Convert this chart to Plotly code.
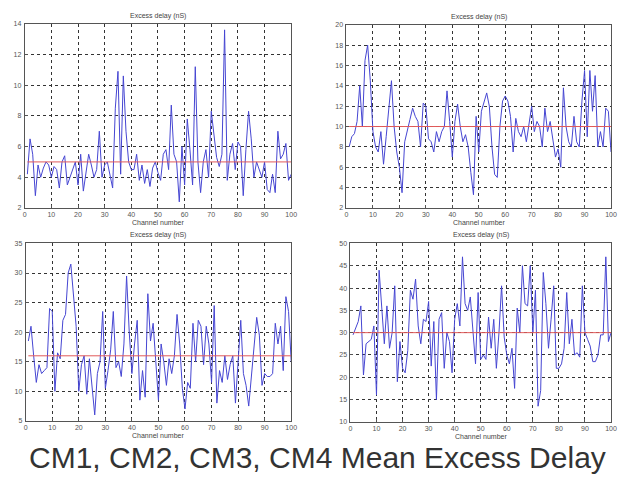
import plotly.graph_objects as go

channels = list(range(1, 101))

cm1 = [4.2, 6.5, 5.5, 2.8, 4.8, 4.0, 4.6, 5.0, 4.8, 4.0,
       4.7, 4.5, 3.3, 5.0, 5.4, 3.5, 4.0, 4.5, 5.0, 3.5,
       5.5, 3.1, 4.5, 5.5, 4.8, 4.0, 4.5, 7.0, 4.0, 4.8,
       5.0, 4.2, 3.3, 8.5, 10.9, 4.2, 10.6, 7.0, 5.0, 4.5,
       4.5, 5.5, 3.8, 4.8, 3.6, 4.5, 3.4, 4.6, 5.0, 4.3,
       3.8, 5.5, 5.8, 4.5, 8.7, 5.5, 5.0, 2.4, 6.0, 3.5,
       7.8, 5.8, 3.5, 11.2, 5.0, 3.0, 5.0, 5.8, 4.0, 8.3,
       6.8, 5.3, 4.7, 5.5, 13.6, 3.8, 5.5, 6.2, 4.5, 6.3,
       6.0, 2.8, 5.8, 8.3, 6.5, 4.0, 5.0, 4.5, 4.0, 5.0,
       3.2, 3.0, 4.2, 3.0, 7.0, 5.2, 5.5, 6.2, 3.8, 4.2]

cm2 = [8.0, 9.0, 9.3, 10.5, 14.0, 10.0, 16.5, 18.0, 14.5, 9.5,
       8.0, 7.5, 9.5, 6.3, 9.0, 12.0, 14.5, 10.0, 7.5, 6.0,
       3.5, 8.5, 9.5, 10.7, 11.8, 11.0, 10.5, 8.0, 12.3, 12.0,
       8.8, 8.5, 7.5, 9.5, 8.5, 9.5, 10.0, 13.5, 10.5, 7.0,
       10.5, 12.2, 10.0, 8.5, 9.2, 8.0, 5.5, 3.3, 11.0, 7.5,
       11.5, 12.5, 13.3, 12.0, 8.0, 5.3, 5.0, 10.0, 12.5, 13.0,
       12.5, 11.0, 7.5, 10.8, 9.5, 9.0, 10.0, 8.5, 10.2, 12.0,
       9.5, 10.5, 10.0, 8.0, 11.8, 9.5, 10.5, 8.5, 7.0, 7.8,
       6.0, 13.8, 10.0, 8.5, 8.0, 11.0, 8.5, 8.0, 12.5, 15.5,
       9.0, 15.5, 11.5, 15.0, 8.0, 9.5, 8.0, 11.8, 11.5, 7.5]

cm3 = [18.5, 21.0, 16.0, 11.5, 14.5, 13.0, 13.5, 14.0, 24.0, 23.5,
       10.0, 16.5, 15.5, 22.0, 23.0, 30.0, 31.5, 26.0, 21.0, 10.0,
       14.5, 16.0, 9.5, 15.5, 10.0, 6.0, 13.0, 15.0, 23.5, 10.5,
       13.5, 17.0, 23.5, 14.0, 15.0, 12.5, 18.0, 29.5, 20.0, 13.0,
       18.0, 22.0, 8.5, 13.5, 9.0, 26.5, 18.5, 21.5, 15.0, 8.5,
       18.0, 15.0, 11.0, 15.5, 13.0, 16.0, 23.0, 18.0, 10.5, 7.0,
       11.5, 10.5, 21.5, 15.0, 22.0, 21.0, 14.5, 21.0, 18.0, 11.5,
       24.5, 8.0, 13.5, 11.5, 16.0, 12.0, 14.5, 16.0, 8.0, 15.0,
       22.0, 13.0, 11.0, 7.5, 12.5, 18.0, 22.5, 19.5, 11.0, 13.0,
       12.5, 12.5, 13.0, 21.5, 18.0, 21.0, 13.5, 26.0, 23.5, 15.0]

cm4 = [29.5, 31.0, 32.5, 36.0, 20.5, 27.5, 28.0, 28.5, 31.5, 16.0,
       44.0, 35.0, 27.5, 36.0, 26.5, 30.0, 40.5, 19.0, 28.0, 22.0,
       21.0, 26.0, 39.5, 37.5, 42.0, 31.5, 27.5, 33.0, 32.5, 37.0,
       22.5, 32.5, 15.0, 33.0, 34.5, 22.0, 30.0, 28.0, 21.0, 33.0,
       36.5, 31.5, 47.0, 36.5, 35.0, 38.0, 31.0, 23.0, 39.0, 24.0,
       25.0, 24.0, 33.5, 26.5, 33.0, 22.0, 30.0, 40.5, 29.0, 25.0,
       23.0, 26.5, 17.5, 35.5, 30.0, 45.0, 36.5, 36.0, 45.0, 30.0,
       39.5, 13.5, 17.0, 43.5, 36.5, 26.5, 33.0, 40.5, 22.0, 22.0,
       23.0, 26.5, 39.0, 27.5, 33.0, 25.0, 25.5, 24.5, 40.5, 30.0,
       28.5, 27.0, 23.5, 23.5, 25.0, 29.5, 29.5, 47.0, 28.0, 30.0]

means = [5.0, 10.0, 16.0, 30.0]
series = [cm1, cm2, cm3, cm4]
y_ranges = [[2, 14], [2, 20], [5, 35], [10, 50]]
y_dticks = [2, 2, 5, 5]

panel_title = "Excess delay (nS)"
x_title = "Channel number"
caption = "CM1, CM2, CM3, CM4 Mean Excess Delay"

W, H = 619, 481
# pixel boxes (left, right, top, bottom)
boxes = [(23, 293, 20, 207), (349, 617, 21, 207), (24, 293, 243, 423), (353, 617, 243, 424)]

fig = go.Figure()
font_fam = "Liberation Sans, Arial, sans-serif"
annotations = []
for i, (data, m, box) in enumerate(zip(series, means, boxes)):
    n = "" if i == 0 else str(i + 1)
    xa, ya = "x" + n, "y" + n
    fig.add_trace(go.Scatter(x=channels, y=data, mode="lines", xaxis=xa, yaxis=ya,
                             line=dict(color="rgb(70,70,210)", width=1), showlegend=False))
    fig.add_trace(go.Scatter(x=[channels[0], channels[-1]], y=[m, m], mode="lines", xaxis=xa, yaxis=ya,
                             line=dict(color="rgb(225,90,90)", width=1), showlegend=False))
    l, r, t, b = box
    xd = [l / W, r / W]
    yd = [1 - b / H, 1 - t / H]
    common = dict(showline=True, linecolor="#555", linewidth=1, mirror=True,
                  showgrid=True, gridcolor="#333", griddash="dot", gridwidth=1,
                  ticks="inside", ticklen=3, tickcolor="#555", zeroline=False,
                  tickfont=dict(size=7, color="#555", family=font_fam))
    fig.update_layout(**{
        "xaxis" + n: dict(domain=xd, anchor=ya, range=[0, 100], dtick=10, tick0=0,
                          ticklabelstandoff=0, **common),
        "yaxis" + n: dict(domain=yd, anchor=xa, range=y_ranges[i], dtick=y_dticks[i],
                          ticklabelstandoff=1, **common),
    })
    cx = (l + r) / 2 / W
    annotations.append(dict(x=cx, y=1 - (t - 2) / H, xref="paper", yref="paper", text=panel_title,
                            showarrow=False, xanchor="center", yanchor="bottom",
                            font=dict(size=7, color="#444", family=font_fam)))
    annotations.append(dict(x=cx, y=1 - (b + 9) / H, xref="paper", yref="paper", text=x_title,
                            showarrow=False, xanchor="center", yanchor="top",
                            font=dict(size=7, color="#444", family=font_fam)))

annotations.append(dict(x=320 / W, y=1 - 460 / H, xref="paper", yref="paper", text=caption,
                        showarrow=False, xanchor="center", yanchor="middle",
                        font=dict(size=30, color="#333", family=font_fam)))

fig.update_layout(width=W, height=H, margin=dict(l=0, r=0, t=0, b=0),
                  paper_bgcolor="white", plot_bgcolor="white", annotations=annotations)

fig.write_html("out.html")
